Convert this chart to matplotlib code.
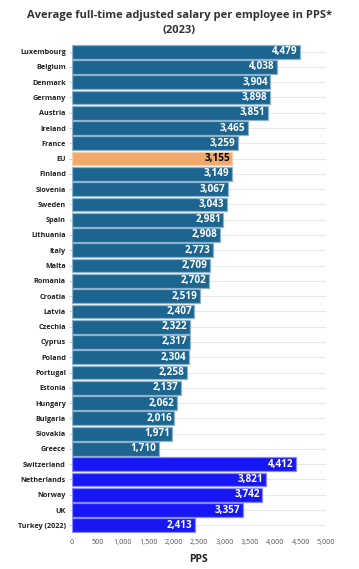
import matplotlib
matplotlib.use("Agg")
import matplotlib.pyplot as plt

countries = ["Luxembourg", "Belgium", "Denmark", "Germany", "Austria", "Ireland", "France", "EU",
             "Finland", "Slovenia", "Sweden", "Spain", "Lithuania", "Italy", "Malta", "Romania",
             "Croatia", "Latvia", "Czechia", "Cyprus", "Poland", "Portugal", "Estonia", "Hungary",
             "Bulgaria", "Slovakia", "Greece", "Switzerland", "Netherlands", "Norway", "UK", "Turkey (2022)"]
values = [4479, 4038, 3904, 3898, 3851, 3465, 3259, 3155,
          3149, 3067, 3043, 2981, 2908, 2773, 2709, 2702,
          2519, 2407, 2322, 2317, 2304, 2258, 2137, 2062,
          2016, 1971, 1710, 4412, 3821, 3742, 3357, 2413]
groups = ["eu"] * 7 + ["avg"] + ["eu"] * 19 + ["non"] * 5

xticks = [0, 500, 1000, 1500, 2000, 2500, 3000, 3500, 4000, 4500, 5000]

colors = {"eu": "#1b6590", "avg": "#f0a96a", "non": "#1717f5"}
edges = {"eu": "#8fb3cc", "avg": "#f6cfa8", "non": "#8a8aff"}

plt.rcParams['font.family'] = ['Open Sans', 'DejaVu Sans']
fig = plt.figure(figsize=(3.59, 5.69), dpi=100)
ax = fig.add_axes([0.2006, 0.0633, 0.7074, 0.8594])

n = len(countries)
ypos = list(range(n))
for y in ypos:
    ax.axhline(y, color="#e8e8e8", lw=0.8, zorder=0)
bars = ax.barh(ypos, values, height=0.9,
               color=[colors[g] for g in groups],
               edgecolor=[edges[g] for g in groups], linewidth=0.9, zorder=2)
for y, v, g in zip(ypos, values, groups):
    ax.text(v - 45, y, f"{v:,}", ha="right", va="center", fontsize=7.2, fontweight="bold",
            color="black" if g == "avg" else "white", zorder=3)

ax.set_ylim(n - 0.5, -0.5)
ax.set_xlim(0, 5000)
ax.set_yticks(ypos)
ax.set_yticklabels(countries, fontsize=5.2, fontweight="bold", color="#222222")
ax.set_xticks(xticks)
ax.set_xticklabels([f"{x:,}" for x in xticks], fontsize=5.2, color="#555555")
ax.tick_params(axis="y", length=2.5, color="#cccccc", pad=2)
ax.tick_params(axis="x", length=0, pad=4)
for s in ax.spines.values():
    s.set_visible(False)
ax.set_xlabel("PPS", fontsize=7.5, fontweight="bold", color="#222222", labelpad=6)

fig.text(0.5, 0.972, "Average full-time adjusted salary per employee in PPS*",
         ha="center", va="center", fontsize=8, fontweight="bold", color="#333333")
fig.text(0.5, 0.947, "(2023)", ha="center", va="center", fontsize=8, fontweight="bold", color="#333333")

fig.savefig("out.png", dpi=100)
